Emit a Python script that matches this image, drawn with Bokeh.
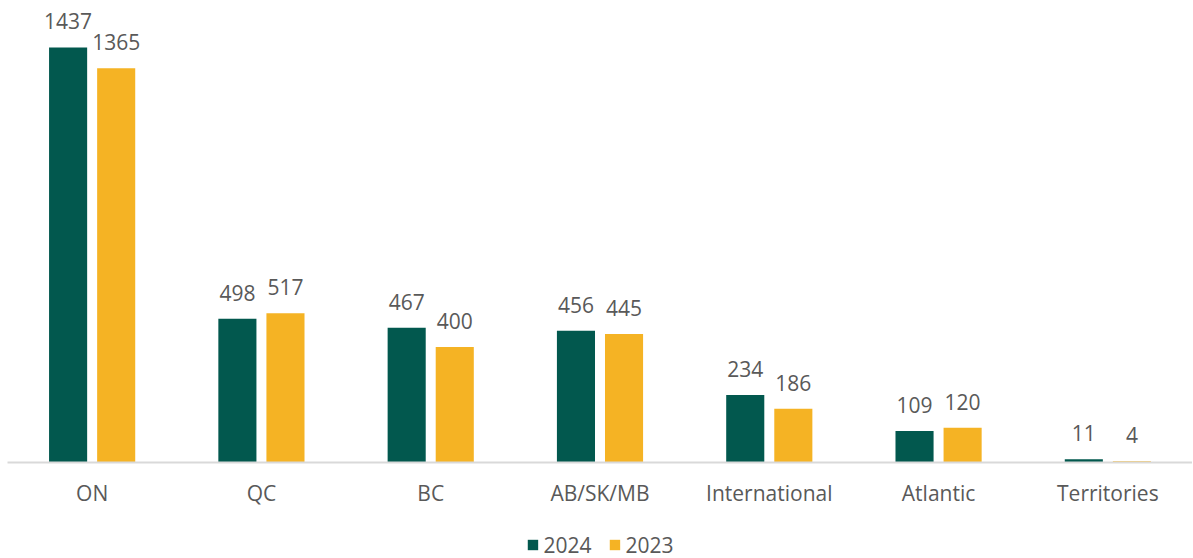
from bokeh.plotting import figure
from bokeh.models import ColumnDataSource, FactorRange, Range1d, Legend, LegendItem
from bokeh.layouts import column
from bokeh.transform import dodge
from bokeh.core.properties import value
from bokeh.embed import file_html
from bokeh.resources import INLINE

categories = ["ON", "QC", "BC", "AB/SK/MB", "International", "Atlantic", "Territories"]
values_2024 = [1437, 498, 467, 456, 234, 109, 11]
values_2023 = [1365, 517, 400, 445, 186, 120, 4]
series_names = ["2024", "2023"]

GREEN = "#02584E"
GOLD = "#F5B324"
TEXT = "#595959"
FONT = "Open Sans"
FS = "21px"

src = ColumnDataSource(dict(
    cat=categories,
    v24=values_2024,
    v23=values_2023,
    l24=[str(v) for v in values_2024],
    l23=[str(v) for v in values_2023],
))

p = figure(x_range=FactorRange(*categories), y_range=Range1d(0, 1572),
           frame_width=1185, frame_height=454, output_backend="svg",
           toolbar_location=None, min_border=0, min_border_left=7, min_border_top=8,
           min_border_bottom=69)
p.outline_line_color = None
p.xgrid.visible = False
p.ygrid.visible = False
p.yaxis.visible = False

off = 0.142
w = 0.225
p.vbar(x=dodge("cat", -off, range=p.x_range), top="v24", width=w, source=src,
       fill_color=GREEN, line_color=None)
p.vbar(x=dodge("cat", off, range=p.x_range), top="v23", width=w, source=src,
       fill_color=GOLD, line_color=None)

for col, lab, d in (("v24", "l24", -off), ("v23", "l23", off)):
    p.text(x=dodge("cat", d, range=p.x_range), y=col, text=lab, source=src,
           text_align="center", text_baseline="alphabetic", y_offset=-26,
           text_color=TEXT, text_font=value(FONT), text_font_size=FS)

ax = p.xaxis[0]
ax.axis_line_color = "#D9D9D9"
ax.axis_line_width = 2
ax.major_tick_line_color = None
ax.minor_tick_line_color = None
ax.major_label_standoff = 10
ax.major_label_text_font = FONT
ax.major_label_text_font_size = FS
ax.major_label_text_color = TEXT

# Legend strip below the chart (swatch renderers sit outside the visible range)
p2 = figure(frame_width=1185, frame_height=27, output_backend="svg",
            toolbar_location=None, min_border=0, min_border_left=7,
            x_range=Range1d(0, 1), y_range=Range1d(0, 1))
p2.outline_line_color = None
p2.axis.visible = False
p2.grid.visible = False
lr24 = p2.vbar(x=[5], top=[1], width=0.1, fill_color=GREEN, line_color=None)
lr23 = p2.vbar(x=[6], top=[1], width=0.1, fill_color=GOLD, line_color=None)

legend = Legend(items=[LegendItem(label=series_names[0], renderers=[lr24]),
                       LegendItem(label=series_names[1], renderers=[lr23])],
                orientation="horizontal", location="center",
                border_line_color=None, background_fill_alpha=0,
                label_text_font=FONT, label_text_font_size=FS, label_text_color=TEXT,
                glyph_width=13, glyph_height=13, label_standoff=5, spacing=16,
                padding=0, margin=0, label_height=20)
p2.add_layout(legend)

layout = column(p, p2, spacing=0)
open("out.html", "w").write(file_html(layout, INLINE))
